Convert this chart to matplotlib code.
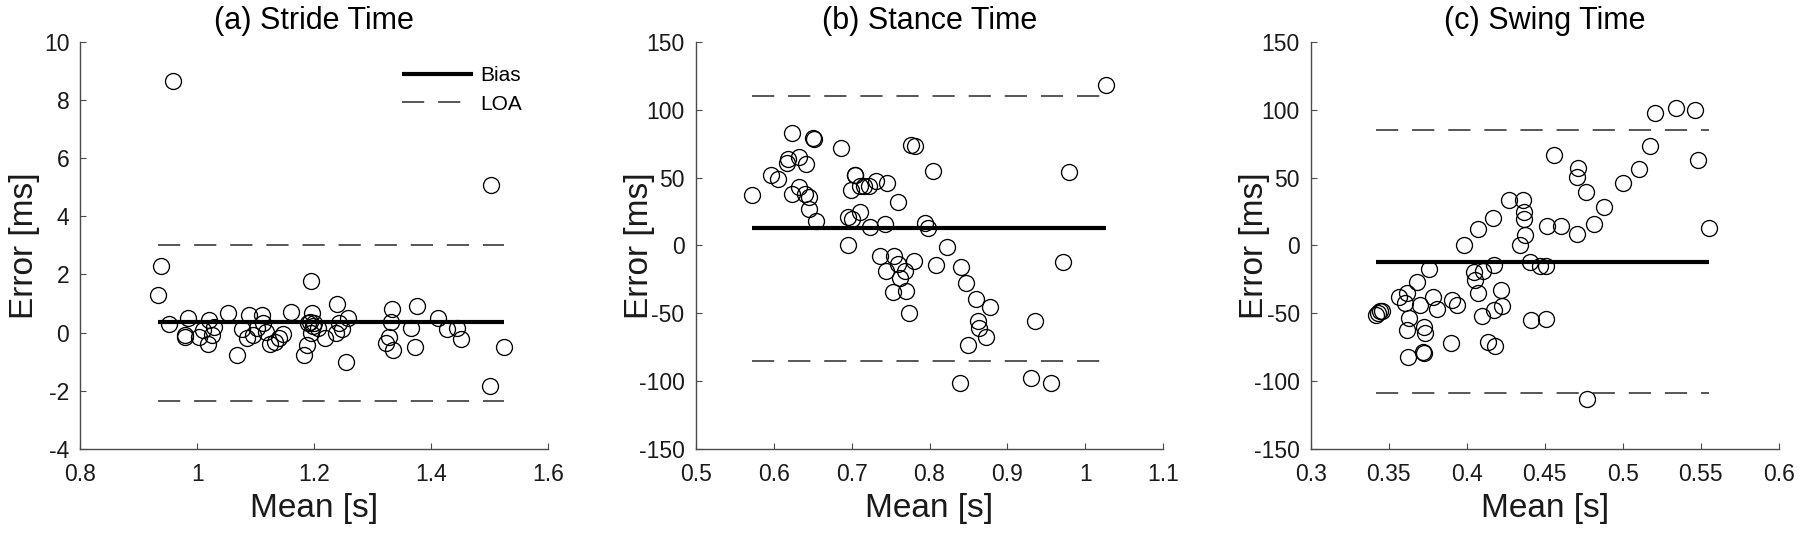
import matplotlib
matplotlib.use("Agg")
import matplotlib.pyplot as plt
import numpy as np

plt.rcParams['font.family'] = ['Liberation Sans', 'DejaVu Sans']
plt.rcParams['axes.unicode_minus'] = False
plt.rcParams['lines.scale_dashes'] = False

# ---------------- data ----------------
stride_mean = [0.958, 1.502, 0.938, 0.932, 1.195, 0.951, 0.984, 0.978, 0.979, 1.002,
               1.009, 1.020, 1.019, 1.025, 1.029, 1.053, 1.068, 1.076, 1.085, 1.089,
               1.096, 1.102, 1.111, 1.113, 1.118, 1.125, 1.133, 1.140, 1.147, 1.160,
               1.182, 1.188, 1.190, 1.193, 1.196, 1.197, 1.194, 1.200, 1.206, 1.219,
               1.239, 1.243, 1.237, 1.247, 1.255, 1.258, 1.322, 1.327, 1.333, 1.332,
               1.335, 1.366, 1.372, 1.376, 1.412, 1.427, 1.444, 1.451, 1.501, 1.525]
stride_err = [8.65, 5.07, 2.30, 1.29, 1.78, 0.29, 0.50, -0.08, -0.14, -0.16,
              0.09, 0.42, -0.40, -0.08, 0.21, 0.66, -0.78, 0.12, -0.20, 0.62,
              -0.08, 0.15, 0.62, 0.33, 0.03, -0.40, -0.31, -0.20, -0.06, 0.70,
              -0.78, -0.43, 0.33, 0.38, 0.67, 0.23, -0.02, 0.33, 0.15, -0.20,
              0.99, 0.33, -0.02, 0.12, -1.01, 0.50, -0.35, -0.14, 0.83, 0.38,
              -0.60, 0.15, -0.51, 0.91, 0.50, 0.12, 0.15, -0.22, -1.83, -0.49]
stride_bias, stride_loa = 0.35, (3.02, -2.35)

stance_mean = [1.027, 0.572, 0.596, 0.606, 0.617, 0.618, 0.623, 0.623, 0.633, 0.632,
               0.641, 0.640, 0.646, 0.645, 0.654, 0.650, 0.652, 0.686, 0.695, 0.695,
               0.700, 0.699, 0.704, 0.705, 0.711, 0.711, 0.716, 0.722, 0.723, 0.731,
               0.745, 0.743, 0.760, 0.737, 0.754, 0.744, 0.760, 0.762, 0.768, 0.753,
               0.770, 0.774, 0.780, 0.776, 0.782, 0.794, 0.798, 0.805, 0.808, 0.822,
               0.840, 0.847, 0.860, 0.877, 0.862, 0.864, 0.873, 0.850, 0.839, 0.935,
               0.930, 0.956, 0.971, 0.979]
stance_err = [118.1, 36.9, 51.6, 48.6, 61.0, 63.5, 82.7, 37.9, 65.3, 42.8,
              60.3, 37.9, 35.4, 26.9, 17.9, 79.0, 78.5, 71.7, 0.5, 20.7,
              19.2, 40.6, 51.8, 51.6, 24.9, 43.6, 44.1, 43.6, 13.7, 47.3,
              46.1, 15.4, 31.9, -8.0, -7.5, -19.2, -13.7, -23.7, -18.7, -34.4,
              -33.6, -49.8, -11.7, 74.2, 73.5, 16.2, 12.5, 54.8, -14.2, -1.2,
              -15.7, -27.4, -39.4, -45.3, -56.0, -61.0, -67.3, -73.5, -101.4, -56.0,
              -97.6, -101.4, -12.5, 54.3]
stance_bias, stance_loa = 12.5, (110.4, -85.2)

swing_mean = [0.3417, 0.3430, 0.3446, 0.3459, 0.3564, 0.3601, 0.3616, 0.3630, 0.3618, 0.3620,
              0.3682, 0.3699, 0.3724, 0.3729, 0.3719, 0.3726, 0.3760, 0.3785, 0.3810, 0.3900,
              0.3908, 0.3940, 0.3981, 0.4047, 0.4055, 0.4072, 0.4072, 0.4099, 0.4104, 0.4133,
              0.4170, 0.4172, 0.4172, 0.4182, 0.4222, 0.4226, 0.4271, 0.4361, 0.4366, 0.4366,
              0.4374, 0.4339, 0.4406, 0.4410, 0.4472, 0.4509, 0.4509, 0.4516, 0.4558, 0.4602,
              0.4712, 0.4705, 0.4766, 0.4710, 0.4815, 0.4877, 0.4774, 0.4999, 0.5102, 0.5178,
              0.5208, 0.5343, 0.5465, 0.5482, 0.5551]
swing_err = [-51.1, -49.8, -48.6, -48.1, -37.9, -42.3, -34.9, -53.6, -62.3, -82.2,
             -26.9, -44.1, -59.8, -64.8, -78.5, -79.0, -17.4, -37.9, -46.6, -71.7,
             -39.9, -44.1, 0.0, -19.4, -25.4, -34.9, 12.0, -51.8, -19.2, -71.0,
             19.9, -14.4, -47.3, -74.0, -33.1, -44.3, 33.6, 33.6, 24.4, 19.2,
             8.0, 0.5, -12.0, -54.8, -14.9, -14.9, -54.1, 14.4, 66.8, 14.4,
             56.8, 50.3, 39.4, 8.7, 15.7, 28.6, -113.3, 46.1, 56.5, 73.5,
             97.6, 100.9, 99.6, 62.8, 12.5]
swing_bias, swing_loa = -12.0, (84.7, -108.9)

titles = ['(a) Stride Time', '(b) Stance Time', '(c) Swing Time']
xlims = [(0.8, 1.6), (0.5, 1.1), (0.3, 0.6)]
ylims = [(-4, 10), (-150, 150), (-150, 150)]
xticks = [[0.8, 1.0, 1.2, 1.4, 1.6],
          [0.5, 0.6, 0.7, 0.8, 0.9, 1.0, 1.1],
          [0.3, 0.35, 0.4, 0.45, 0.5, 0.55, 0.6]]
xticklabels = [['0.8', '1', '1.2', '1.4', '1.6'],
               ['0.5', '0.6', '0.7', '0.8', '0.9', '1', '1.1'],
               ['0.3', '0.35', '0.4', '0.45', '0.5', '0.55', '0.6']]
yticks = [[-4, -2, 0, 2, 4, 6, 8, 10],
          [-150, -100, -50, 0, 50, 100, 150],
          [-150, -100, -50, 0, 50, 100, 150]]
xlabel = 'Mean [s]'
ylabel = 'Error [ms]'

series = [(stride_mean, stride_err, stride_bias, stride_loa),
          (stance_mean, stance_err, stance_bias, stance_loa),
          (swing_mean, swing_err, swing_bias, swing_loa)]

# ---------------- figure ----------------
fig = plt.figure(figsize=(18, 5.33), dpi=100)
lefts = [0.0447, 0.3865, 0.7283]
axw, axb, axh = 0.2598, 0.1576, 0.764
axis_col = '#4a4a4a'
text_col = '#1a1a1a'
dash = (16, 10)

for i, (xm, ye, bias, loa) in enumerate(series):
    ax = fig.add_axes([lefts[i], axb, axw, axh])
    x0, x1 = min(xm), max(xm)
    ax.plot([x0, x1], [bias, bias], color='black', lw=3.0, solid_capstyle='butt',
            label='Bias', zorder=2)
    ax.plot([x0, x1], [loa[0], loa[0]], color='#3a3a3a', lw=1.2, dashes=dash,
            label='LOA', zorder=2)
    ax.plot([x0, x1], [loa[1], loa[1]], color='#3a3a3a', lw=1.2, dashes=dash, zorder=2)
    ax.plot(xm, ye, linestyle='none', marker='o', markersize=11.5,
            markerfacecolor='none', markeredgecolor='black', markeredgewidth=0.95, zorder=3)

    ax.set_xlim(*xlims[i])
    ax.set_ylim(*ylims[i])
    ax.set_xticks(xticks[i])
    ax.set_xticklabels(xticklabels[i])
    ax.set_yticks(yticks[i])
    ax.set_yticklabels([str(v) for v in yticks[i]])
    for s in ['top', 'right']:
        ax.spines[s].set_visible(False)
    for s in ['left', 'bottom']:
        ax.spines[s].set_color(axis_col)
        ax.spines[s].set_linewidth(1.0)
    ax.tick_params(direction='in', length=4, width=0.8, color=axis_col,
                   labelsize=16.5, labelcolor=text_col)
    ax.tick_params(axis='x', pad=10)
    ax.tick_params(axis='y', pad=8)

    ax.set_title(titles[i], fontsize=22, color='black', y=1.05, va='center', pad=0)
    ax.set_xlabel(xlabel, fontsize=24, color=text_col)
    ax.set_ylabel(ylabel, fontsize=24, color=text_col)
    ax.xaxis.set_label_coords(0.5, -0.146)
    ax.xaxis.label.set_va('center')
    ax.yaxis.set_label_coords(-0.12, 0.5)
    ax.yaxis.label.set_va('center')

    if i == 0:
        ax.legend(loc='upper right', bbox_to_anchor=(0.944, 0.94), frameon=False,
                  fontsize=15, handlelength=3.4, handletextpad=0.35,
                  borderpad=0, borderaxespad=0, labelspacing=0.45)

fig.savefig('out.png', dpi=100)
